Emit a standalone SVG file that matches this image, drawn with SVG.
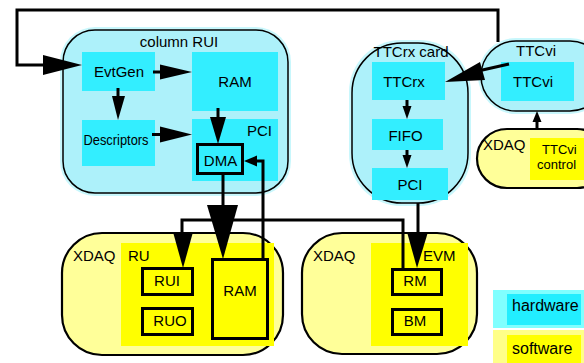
<svg xmlns="http://www.w3.org/2000/svg" width="584" height="363" viewBox="0 0 584 363">
<style>
text{font-family:"Liberation Sans",Arial,sans-serif;font-size:15px;fill:#000}
.halo{fill:#c8f7fc}
.cont{fill:#adf1fa;stroke:#000;stroke-width:1.5}
.hw{fill:#33eeff}
.sw{fill:#ffff00}
.oval{fill:#ffff99;stroke:#000;stroke-width:2.2}
.bx{fill:none;stroke:#000;stroke-width:3}
.ln{fill:none;stroke:#000;stroke-width:3}
.ah{fill:#000}
.c{text-anchor:middle}
.lg{font-size:16px}
.sm{font-size:13px}
</style>
<g id="column-rui">
<rect class="halo" x="60" y="27" width="231" height="169" rx="35"/>
<rect class="cont" x="63" y="30" width="225" height="163" rx="32"/>
<text class="c" x="179" y="47">column RUI</text>
</g>
<g id="evtgen"><rect class="hw" x="82" y="52" width="73" height="39"/><text class="c" x="119" y="77">EvtGen</text></g>
<g id="descriptors"><rect class="hw" x="82" y="120" width="73" height="46"/><text class="c" x="116" y="145" font-size="14" textLength="65" lengthAdjust="spacingAndGlyphs">Descriptors</text></g>
<g id="ram-rui"><rect class="hw" x="192" y="52" width="86" height="59"/><text class="c" x="235" y="87">RAM</text></g>
<g id="pci-rui"><rect class="hw" x="192" y="119" width="86" height="62"/><text x="247" y="136">PCI</text></g>
<g id="dma"><rect class="bx" x="197.5" y="144.5" width="45" height="29"/><text class="c" x="220.5" y="166">DMA</text></g>

<g id="ttcrx-card">
<rect class="halo" x="349" y="40" width="122" height="166" rx="52"/>
<rect class="cont" x="352" y="43" width="116" height="160" rx="50"/>
<text class="c" x="411" y="57">TTCrx card</text>
</g>
<g id="ttcrx"><rect class="hw" x="372" y="62" width="73" height="38"/><text class="c" x="404" y="87">TTCrx</text></g>
<g id="fifo"><rect class="hw" x="372" y="119" width="71" height="31"/><text class="c" x="405.5" y="141">FIFO</text></g>
<g id="pci-ttcrx"><rect class="hw" x="372" y="168" width="76" height="32"/><text class="c" x="410" y="190">PCI</text></g>

<g id="ttcvi-module">
<rect class="halo" x="478" y="38" width="130" height="76" rx="38"/>
<rect class="cont" x="481" y="41" width="124" height="70" rx="35"/>
<text class="c" x="536" y="56">TTCvi</text>
</g>
<g id="ttcvi"><rect class="hw" x="501" y="62" width="73" height="39"/><text class="c" x="533" y="87">TTCvi</text></g>

<g id="xdaq-ttcvi-control">
<rect class="oval" x="477" y="129" width="130" height="59" rx="30"/>
<rect class="sw" x="530" y="138" width="60" height="42"/>
<text x="483" y="150">XDAQ</text>
<text class="sm" x="542" y="154">TTCvi</text>
<text class="sm" x="537" y="169">control</text>
</g>

<g id="xdaq-ru">
<rect class="oval" x="62" y="233" width="221" height="122" rx="40"/>
<rect class="sw" x="121" y="243" width="153" height="103"/>
<text x="73" y="261">XDAQ</text>
<text x="128" y="261">RU</text>
</g>
<g id="rui"><rect class="bx" x="142.5" y="268.5" width="50" height="26"/><text class="c" x="167" y="286">RUI</text></g>
<g id="ruo"><rect class="bx" x="142.5" y="308.5" width="50" height="26"/><text class="c" x="170" y="326">RUO</text></g>
<g id="ram-ru"><rect class="bx" x="212.5" y="259.5" width="55" height="79"/><text class="c" x="240" y="296">RAM</text></g>

<g id="xdaq-evm">
<rect class="oval" x="302" y="233" width="175" height="121" rx="40"/>
<rect class="sw" x="371" y="243" width="97" height="103"/>
<text x="313" y="261">XDAQ</text>
<text x="423" y="261">EVM</text>
</g>
<g id="rm"><rect class="bx" x="392.5" y="269.5" width="49" height="25"/><text class="c" x="415" y="286">RM</text></g>
<g id="bm"><rect class="bx" x="392.5" y="309.5" width="49" height="25"/><text class="c" x="415" y="326">BM</text></g>

<g id="legend-hardware">
<rect x="493" y="290" width="91" height="38" fill="#80ffff"/>
<rect x="507" y="294" width="74" height="31" fill="#22eeff"/>
<text class="lg" x="512" y="311">hardware</text>
</g>
<g id="legend-software">
<rect x="493" y="330" width="91" height="33" fill="#ffff88"/>
<rect x="507" y="335" width="74" height="28" fill="#ffff00"/>
<text class="lg" x="512" y="354">software</text>
</g>

<g id="connectors">
<polyline class="ln" stroke-width="3.5" points="498,42 498,10 17,10 17,65 46,65"/>
<polygon class="ah" points="82,65 43,55 43,75"/>
<line class="ln" x1="153" y1="72" x2="162" y2="72"/>
<polygon class="ah" points="192,72 160,64.5 160,79.5"/>
<line class="ln" stroke-width="2.5" x1="118" y1="88" x2="118" y2="98"/>
<polygon class="ah" points="118,120 112,96 125,96"/>
<line class="ln" x1="152" y1="134.5" x2="162" y2="134.5"/>
<polygon class="ah" points="192,134.5 160,126.5 160,142.5"/>
<line class="ln" stroke-width="2.5" x1="218" y1="108" x2="218" y2="120"/>
<polygon class="ah" points="218,144 210,117 226,117"/>
<line class="ln" stroke-width="8" x1="223" y1="174" x2="223" y2="208"/>
<polygon class="ah" points="223,259 207,205 238,205"/>
<polyline class="ln" points="263,259 263,161 255,161"/>
<polygon class="ah" points="244,161 257,155.5 257,166.5"/>
<polyline class="ln" points="403,269 403,220 182,220 182,234"/>
<polygon class="ah" points="183,268 173,232 193,232"/>
<line class="ln" x1="418" y1="203" x2="418" y2="234"/>
<polygon class="ah" points="417,268 407,232 428,232"/>
<polyline class="ln" points="509,64 478,71"/>
<polygon class="ah" points="445,82 480,62 485,80"/>
<line class="ln" stroke-width="2.5" x1="537" y1="129" x2="537" y2="119"/>
<polygon class="ah" points="537,111 532.5,122 541.5,122"/>
<line class="ln" stroke-width="2" x1="407" y1="100" x2="407" y2="107"/>
<polygon class="ah" points="407,119 402.5,106 411.5,106"/>
<line class="ln" stroke-width="2" x1="407" y1="150" x2="407" y2="156"/>
<polygon class="ah" points="407,168 402.5,155 411.5,155"/>
</g>
</svg>
